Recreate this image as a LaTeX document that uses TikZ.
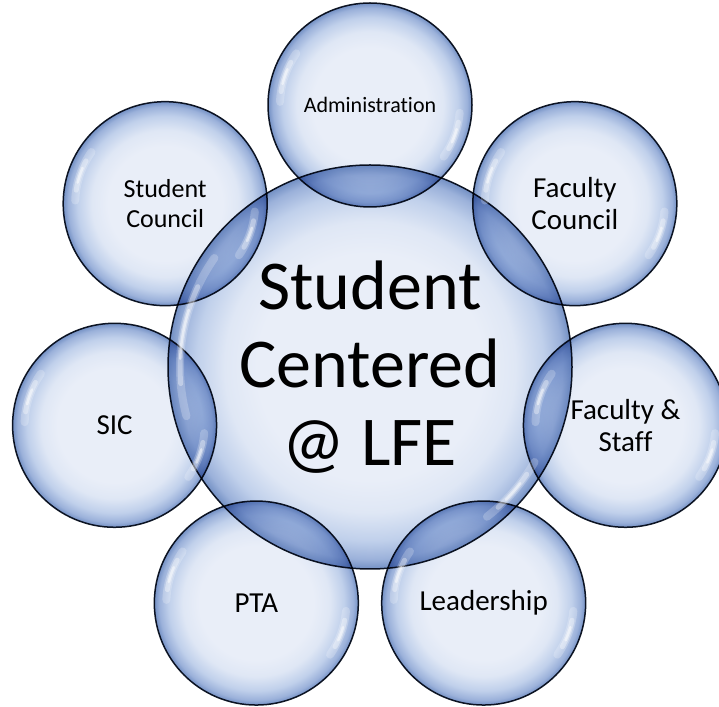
\documentclass[tikz,border=0pt]{standalone}
\usepackage{fontspec}
\setmainfont{Carlito}[Ligatures=NoCommon]
\definecolor{bin}{HTML}{E9EEF8}
\definecolor{bmid}{HTML}{DFE7F5}
\definecolor{brimA}{HTML}{C0D0EB}
\definecolor{brimB}{HTML}{9BB1DA}
\definecolor{brimC}{HTML}{7390C4}
\definecolor{edgecol}{HTML}{121A28}
\pgfdeclareradialshading{bubbleshade}{\pgfpoint{0bp}{0bp}}{color(0bp)=(bin); color(14bp)=(bin); color(18bp)=(bmid); color(21.5bp)=(brimA); color(23.8bp)=(brimB); color(25bp)=(brimC); color(50bp)=(brimC)}
\tikzset{
  bubble/.style={circle, draw=edgecol, line width=1.5pt, shade, shading=bubbleshade,
    inner sep=0pt, minimum size=204pt, align=center, text=black,
    font=\fontsize{29}{32}\selectfont},
  hub/.style={bubble, minimum size=404pt, font=\fontsize{70}{78}\selectfont},
  hlstroke/.style={white, line cap=round},
}
\newcommand\hilite[4]{%
  \pgfmathsetmacro\hA{#3+(#4-#3)/5}\pgfmathsetmacro\hB{#4-(#4-#3)/5}%
  \pgfmathsetmacro\hC{#3+(#4-#3)*0.35}\pgfmathsetmacro\hD{#4-(#4-#3)*0.35}%
  \draw[hlstroke, line width=8pt, opacity=.22] ([shift={(#3:#2)}]#1.center) arc[start angle=#3, end angle=#4, radius=#2];
  \draw[hlstroke, line width=5pt, opacity=.35] ([shift={(\hA:#2)}]#1.center) arc[start angle=\hA, end angle=\hB, radius=#2];
  \draw[hlstroke, line width=2.5pt, opacity=.5] ([shift={(\hC:#2)}]#1.center) arc[start angle=\hC, end angle=\hD, radius=#2];
}
\begin{document}
\begin{tikzpicture}[x=1pt,y=1pt]
  \fill[white] (0,0) rectangle (719,706);
  \useasboundingbox (0,0) rectangle (719,706);
  \clip (0,0) rectangle (719,706);
  \coordinate (C) at (370,339);
  \begin{scope}[blend mode=multiply]
    \node[hub] (hub) at (C) {Student\\Centered\\@ LFE};
    \node[bubble, font=\fontsize{22}{26}\selectfont] (admin) at ([shift={(90:262)}]C) {Administration};
    \node[bubble] (faccouncil) at ([shift={(38.571:262)}]C) {Faculty\\Council};
    \node[bubble] (facstaff) at ([shift={(-12.857:262)}]C) {Faculty \&\\Staff};
    \node[bubble] (leadership) at ([shift={(-64.286:262)}]C) {Leadership};
    \node[bubble] (pta) at ([shift={(-115.714:262)}]C) {PTA};
    \node[bubble] (sic) at ([shift={(-167.143:262)}]C) {SIC};
    \node[bubble, font=\fontsize{26}{30}\selectfont] (stucouncil) at ([shift={(141.429:262)}]C) {Student\\Council};
  \end{scope}
  \hilite{hub}{190}{145}{195}
  \hilite{hub}{190}{-52}{-30}
  \foreach \n in {admin,faccouncil,facstaff,leadership,pta,sic,stucouncil}{
    \hilite{\n}{90}{145}{178}
    \hilite{\n}{90}{-35}{-5}
  }
\end{tikzpicture}
\end{document}
